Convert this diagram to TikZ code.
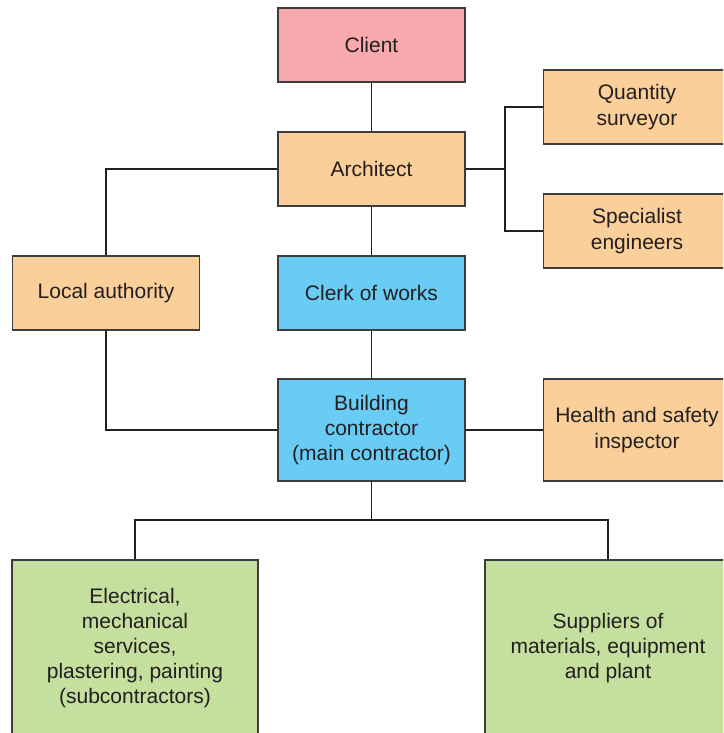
\documentclass[tikz,border=0pt]{standalone}
\usepackage{fontspec}
\setmainfont{Liberation Sans}
\usetikzlibrary{positioning}
\definecolor{clientPink}{RGB}{247,169,173}
\definecolor{paleOrange}{RGB}{251,207,154}
\definecolor{skyBlue}{RGB}{104,204,245}
\definecolor{paleGreen}{RGB}{197,223,158}
\definecolor{boxEdge}{RGB}{60,60,60}
\definecolor{textGrey}{RGB}{35,31,32}
\tikzset{
  box/.style={draw=boxEdge, line width=1.1pt, text=textGrey, minimum width=187pt,
    minimum height=74pt, inner sep=0pt, align=center, font=\fontsize{21}{25.2}\selectfont},
  bigbox/.style={box, minimum width=246pt, minimum height=176pt},
  link/.style={draw=textGrey, line width=1.7pt},
}

\begin{document}
\begin{tikzpicture}[x=1pt, y=-1pt]
        \useasboundingbox (0,0) rectangle (723,733);
        \clip (0,0) rectangle (723,733);

        % Boxes
        \node[box, fill=clientPink] (client) at (371.5,45) {Client};
        \node[box, fill=paleOrange] (architect) at (371.5,169) {Architect};
        \node[box, fill=paleOrange] (surveyor) at (637,107) {Quantity\\surveyor};
        \node[box, fill=paleOrange] (engineers) at (637,231) {Specialist\\engineers};
        \node[box, fill=paleOrange] (authority) at (106,293) {Local authority};
        \node[box, fill=skyBlue] (clerk) at (371.5,293) {Clerk of works};
        \node[box, fill=skyBlue, minimum height=102pt] (contractor) at (371.5,430)
            {Building\\contractor\\(main contractor)};
        \node[box, fill=paleOrange, minimum height=102pt] (safety) at (637,430)
            {Health and safety\\inspector};
        \node[bigbox, fill=paleGreen] (subs) at (135,648)
            {Electrical,\\mechanical\\services,\\plastering, painting\\(subcontractors)};
        \node[bigbox, fill=paleGreen] (suppliers) at (608,648)
            {Suppliers of\\materials, equipment\\and plant};

        % Connectors
        \coordinate (split) at (505,169);
        \coordinate (branch) at (371.5,520);
        \draw[link] (client) -- (architect);
        \draw[link] (architect) -- (clerk);
        \draw[link] (clerk) -- (contractor);
        \draw[link] (contractor) -- (safety);
        \draw[link] (architect.east) -- (split);
        \draw[link] (surveyor.west) -| (split) |- (engineers.west);
        \draw[link] (architect.west) -| (authority.north);
        \draw[link] (authority.south) |- (contractor.west);
        \draw[link] (contractor.south) -- (branch);
        \draw[link] (subs.north) |- (branch) -| (suppliers.north);
    \end{tikzpicture}
\end{document}
